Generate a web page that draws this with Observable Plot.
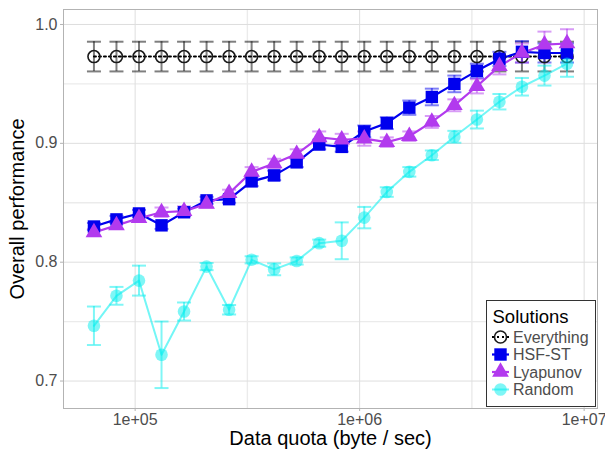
<!DOCTYPE html>
<html>
<head>
<meta charset="utf-8">
<script src="https://cdn.jsdelivr.net/npm/d3@7"></script>
<script src="https://cdn.jsdelivr.net/npm/@observablehq/plot@0.6"></script>
<style>
  html, body { margin: 0; padding: 0; background: #fff; }
  #wrap { position: relative; width: 605px; height: 450px; font-family: "Liberation Sans", Arial, sans-serif; }
  #legend { position: absolute; left: 486px; top: 300px; }
</style>
</head>
<body>
<div id="wrap"><div id="chart"></div><div id="legend"></div></div>
<script>
// ---- data ----
const quota = [65536, 82570, 104032, 131072, 165140, 208064, 262144, 330281, 416128, 524288, 660561,
  832255, 1048576, 1321123, 1664511, 2097152, 2642246, 3329021, 4194304, 5284492, 6658043, 8388608];

const everything = [0.973, 0.973, 0.973, 0.973, 0.973, 0.973, 0.973, 0.973, 0.973, 0.973, 0.973,
  0.973, 0.973, 0.973, 0.973, 0.973, 0.973, 0.973, 0.973, 0.973, 0.973, 0.973];
const everythingErr = [0.0125, 0.0125, 0.0125, 0.0125, 0.0125, 0.0125, 0.0125, 0.0125, 0.0125, 0.0125, 0.0125,
  0.0125, 0.0125, 0.0125, 0.0125, 0.0125, 0.0125, 0.0125, 0.0125, 0.0125, 0.0125, 0.0125];

const hsfst = [0.830, 0.836, 0.841, 0.831, 0.842, 0.852, 0.853, 0.868, 0.873, 0.884, 0.899,
  0.897, 0.910, 0.917, 0.930, 0.939, 0.950, 0.961, 0.971, 0.977, 0.976, 0.976];
const hsfstErr = [0.003, 0.003, 0.003, 0.003, 0.003, 0.003, 0.003, 0.004, 0.004, 0.004, 0.004,
  0.004, 0.005, 0.005, 0.006, 0.007, 0.007, 0.006, 0.006, 0.009, 0.008, 0.008];

const lyapunov = [0.825, 0.831, 0.837, 0.842, 0.843, 0.849, 0.858, 0.876, 0.883, 0.891, 0.905,
  0.903, 0.904, 0.901, 0.906, 0.918, 0.932, 0.948, 0.965, 0.976, 0.983, 0.984];
const lyapunovErr = [0.003, 0.003, 0.003, 0.004, 0.004, 0.003, 0.003, 0.004, 0.004, 0.004, 0.005,
  0.005, 0.006, 0.004, 0.004, 0.005, 0.005, 0.006, 0.007, 0.008, 0.011, 0.012];

const random = [0.7465, 0.7717, 0.7845, 0.7221, 0.7585, 0.7963, 0.760, 0.802, 0.794, 0.801, 0.816,
  0.818, 0.8375, 0.859, 0.876, 0.890, 0.9055, 0.920, 0.935, 0.9476, 0.957, 0.967];
const randomErr = [0.0162, 0.0075, 0.0126, 0.028, 0.0076, 0.003, 0.004, 0.003, 0.005, 0.003, 0.003,
  0.0155, 0.009, 0.004, 0.004, 0.004, 0.005, 0.0075, 0.0065, 0.0074, 0.0084, 0.011];

const seriesNames = ["Everything", "HSF-ST", "Lyapunov", "Random"];
const xTicks = [1e5, 1e6, 1e7];
const xTickLabels = ["1e+05", "1e+06", "1e+07"];
const xMinor = [10 ** 5.5, 10 ** 6.5];
const yTicks = [0.7, 0.8, 0.9, 1.0];
const yTickLabels = ["0.7", "0.8", "0.9", "1.0"];
const yMinor = [0.75, 0.85, 0.95];
const xTitle = "Data quota (byte / sec)";
const yTitle = "Overall performance";
const legendTitle = "Solutions";

// ---- styles ----
const styles = {
  "Everything": {color: "#000000", symbol: "circle", r: 6, fill: "none", stroke: "#1a1a1a", line: "#000000", lineOpacity: 1, dash: "2,3", lw: 2, fillOpacity: 1},
  "HSF-ST": {color: "#0000EE", symbol: "square", r: 7, fill: "#0000EE", stroke: "none", line: "#0000EE", lineOpacity: 1, dash: null, lw: 2.2, fillOpacity: 1},
  "Lyapunov": {color: "#B23AEE", symbol: "triangle", r: 6.2, fill: "#B23AEE", stroke: "none", line: "#B23AEE", lineOpacity: 1, dash: null, lw: 2.2, fillOpacity: 1},
  "Random": {color: "#00EEEE", symbol: "circle", r: 6.3, fill: "#00EEEE", stroke: "none", line: "#00EEEE", lineOpacity: 0.55, dash: null, lw: 2, fillOpacity: 0.5}
};
const valuesBy = {"Everything": [everything, everythingErr], "HSF-ST": [hsfst, hsfstErr], "Lyapunov": [lyapunov, lyapunovErr], "Random": [random, randomErr]};
const rowsBy = {};
for (const s of seriesNames) {
  const [v, e] = valuesBy[s];
  rowsBy[s] = quota.map((q, i) => ({q, v: v[i], e: e[i], s}));
}

const capSymbol = {draw(ctx, size) { const w = Math.sqrt(size / Math.PI); ctx.moveTo(-w, 0); ctx.lineTo(w, 0); }};

const marks = [];
// grid
marks.push(Plot.ruleY(yMinor, {stroke: "#ebebeb", strokeWidth: 1.4}));
marks.push(Plot.ruleX(xMinor, {stroke: "#ebebeb", strokeWidth: 1.4}));
marks.push(Plot.ruleY(yTicks, {stroke: "#dedede", strokeWidth: 1}));
marks.push(Plot.ruleX(xTicks, {stroke: "#dedede", strokeWidth: 1}));
// error bars
for (const s of seriesNames) {
  const st = styles[s];
  const data = rowsBy[s];
  const op = 0.5;
  marks.push(Plot.ruleX(data, {x: "q", y1: d => d.v - d.e, y2: d => d.v + d.e, stroke: st.color, strokeOpacity: op, strokeWidth: 2}));
  marks.push(Plot.dot(data, {x: "q", y: d => d.v + d.e, symbol: capSymbol, r: 7, stroke: st.color, strokeOpacity: op, strokeWidth: 2, fill: "none"}));
  marks.push(Plot.dot(data, {x: "q", y: d => d.v - d.e, symbol: capSymbol, r: 7, stroke: st.color, strokeOpacity: op, strokeWidth: 2, fill: "none"}));
}
// lines
for (const s of seriesNames) {
  const st = styles[s];
  marks.push(Plot.line(rowsBy[s], {x: "q", y: "v", stroke: st.line, strokeOpacity: st.lineOpacity, strokeWidth: st.lw, strokeDasharray: st.dash}));
}
// points
for (const s of seriesNames) {
  const st = styles[s];
  marks.push(Plot.dot(rowsBy[s], {x: "q", y: "v", symbol: st.symbol, r: st.r, fill: st.fill, fillOpacity: st.fillOpacity, stroke: st.stroke, strokeWidth: 1.6}));
}
// frame & axes
marks.push(Plot.frame({stroke: "#b3b3b3"}));
marks.push(Plot.axisX(xTicks, {tickSize: 3, tickPadding: 2, tickFormat: d => xTickLabels[xTicks.indexOf(d)], stroke: "#b3b3b3", fill: "#4d4d4d", fontSize: 16, label: null}));
marks.push(Plot.axisY(yTicks, {tickSize: 3, tickPadding: 3, tickFormat: d => yTickLabels[yTicks.indexOf(d)], stroke: "#b3b3b3", fill: "#4d4d4d", fontSize: 16, label: null}));
marks.push(Plot.text([xTitle], {frameAnchor: "bottom", lineAnchor: "middle", textAnchor: "middle", dy: 30, fontSize: 20, fill: "#000"}));
marks.push(Plot.text([yTitle], {frameAnchor: "left", lineAnchor: "middle", textAnchor: "middle", dx: -46, rotate: -90, fontSize: 20, fill: "#000"}));

const chart = Plot.plot({
  width: 605, height: 450,
  marginLeft: 63, marginRight: 8, marginTop: 9, marginBottom: 42,
  style: {fontFamily: '"Liberation Sans", Arial, sans-serif', background: "#fff"},
  x: {type: "log", domain: [47960, 1.147e7]},
  y: {domain: [0.6769, 1.0126]},
  marks
});
document.getElementById("chart").appendChild(chart);

// ---- legend (overlay, bottom-right inside panel) ----
const lw = 110, lh = 107;
const svg = d3.select("#legend").append("svg").attr("width", lw).attr("height", lh)
  .style("font-family", '"Liberation Sans", Arial, sans-serif');
svg.append("rect").attr("x", 0.5).attr("y", 0.5).attr("width", lw - 1).attr("height", lh - 1)
  .attr("fill", "#fff").attr("stroke", "#333").attr("stroke-width", 1);
svg.append("text").attr("x", 6.5).attr("y", 23.3).attr("font-size", 18.5).attr("fill", "#000").text(legendTitle);
const symMap = {circle: d3.symbolCircle, square: d3.symbolSquare, triangle: d3.symbolTriangle};
seriesNames.forEach((s, i) => {
  const st = styles[s];
  const cy = 37 + i * 17.5;
  const g = svg.append("g").attr("transform", `translate(14.5,${cy})`);
  g.append("line").attr("x1", -8.5).attr("x2", 8.5).attr("y1", 0).attr("y2", 0)
    .attr("stroke", st.line).attr("stroke-opacity", st.lineOpacity).attr("stroke-width", st.lw)
    .attr("stroke-dasharray", st.dash);
  g.append("path").attr("d", d3.symbol(symMap[st.symbol], Math.PI * st.r * st.r)())
    .attr("fill", st.fill).attr("fill-opacity", st.fillOpacity).attr("stroke", st.stroke).attr("stroke-width", 1.6);
  svg.append("text").attr("x", 27).attr("y", cy + 5.8).attr("font-size", 16).attr("fill", "#4d4d4d").text(s);
});
</script>
</body>
</html>
